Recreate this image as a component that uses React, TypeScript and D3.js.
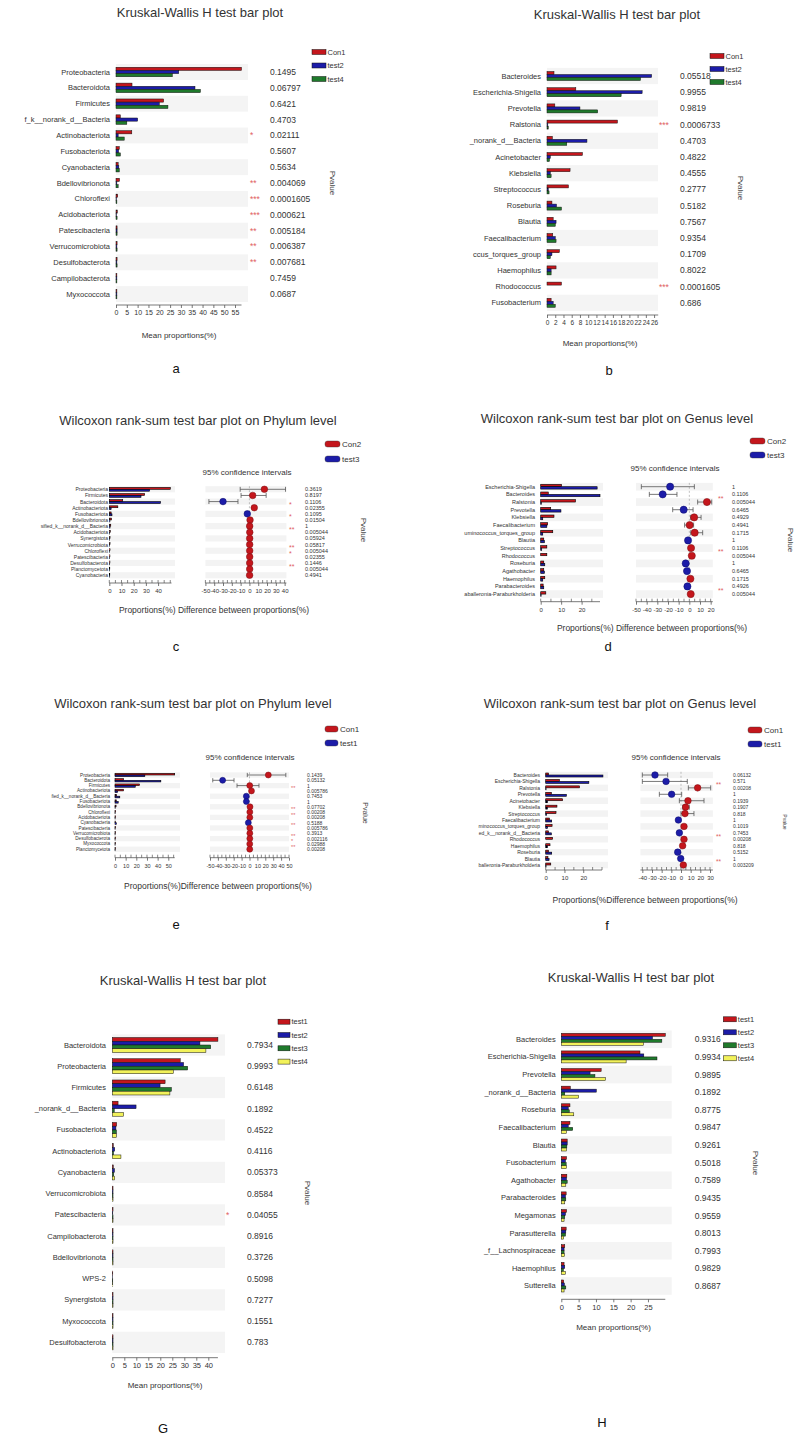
import React, { useEffect, useRef } from "react";
import * as d3 from "d3";

const RED = "#c4161c";
const BLUE = "#1c1ca8";
const GREEN = "#1f7a2c";
const YELLOW = "#f2f25a";
const FONT = "Arial, 'Liberation Sans', Helvetica, sans-serif";

// ---- panel a (Kruskal-Wallis, phylum)
const aCategories = ["Proteobacteria", "Bacteroidota", "Firmicutes", "f_k__norank_d__Bacteria", "Actinobacteriota", "Fusobacteriota", "Cyanobacteria", "Bdellovibrionota", "Chloroflexi", "Acidobacteriota", "Patescibacteria", "Verrucomicrobiota", "Desulfobacterota", "Campilobacterota", "Myxococcota"];
const aCon1 = [58, 7.4, 22, 2, 7.3, 1.5, 1.0, 1.6, 0.8, 0.6, 0.5, 0.5, 0.5, 0.4, 0.4];
const aTest2 = [29, 36.5, 20, 10, 1, 1.2, 1.3, 0.4, 0.2, 0.2, 0.5, 0.4, 0.4, 0.4, 0.4];
const aTest4 = [26, 39, 24, 5, 3.8, 2, 1.5, 1, 0.4, 0.5, 0.5, 0.5, 0.5, 0.4, 0.4];
const aPvalues = [0.1495, 0.06797, 0.6421, 0.4703, 0.02111, 0.5607, 0.5634, 0.004069, 0.0001605, 0.000621, 0.005184, 0.006387, 0.007681, 0.7459, 0.0687];
const aTicks = [0, 5, 10, 15, 20, 25, 30, 35, 40, 45, 50, 55];

// ---- panel b (Kruskal-Wallis, genus)
const bCategories = ["Bacteroides", "Escherichia-Shigella", "Prevotella", "Ralstonia", "_norank_d__Bacteria", "Acinetobacter", "Klebsiella", "Streptococcus", "Roseburia", "Blautia", "Faecalibacterium", "ccus_torques_group", "Haemophilus", "Rhodococcus", "Fusobacterium"];
const bCon1 = [1.7, 7, 1.9, 17.1, 1.3, 8.6, 5.6, 5.2, 1.2, 1.5, 1.4, 3, 2.2, 3.5, 1];
const bTest2 = [25.4, 23.1, 8, 0.2, 9.7, 0.8, 0.8, 0.3, 2.3, 2.2, 2.0, 1.2, 1, 0, 1.5];
const bTest4 = [22.7, 18, 12.3, 0.3, 4.8, 0.6, 1, 0.5, 3.5, 2, 2.2, 0.8, 1, 0, 2];
const bPvalues = [0.05518, 0.9955, 0.9819, 0.0006733, 0.4703, 0.4822, 0.4555, 0.2777, 0.5182, 0.7567, 0.9354, 0.1709, 0.8022, 0.0001605, 0.686];
const bTicks = [0, 2, 4, 6, 8, 10, 12, 14, 16, 18, 20, 22, 24, 26];

// ---- panel c (Wilcoxon, phylum, Con2 vs test3)
const cCategories = ["Proteobacteria", "Firmicutes", "Bacteroidota", "Actinobacteriota", "Fusobacteriota", "Bdellovibrionota", "sified_k__norank_d__Bacteria", "Acidobacteriota", "Synergistota", "Verrucomicrobiota", "Chloroflexi", "Patescibacteria", "Desulfobacterota", "Planctomycetota", "Cyanobacteria"];
const cCon2 = [50, 29, 11, 7, 1.5, 1.8, 1.2, 0.8, 0.6, 0.6, 0.6, 0.5, 0.5, 0.4, 0.4];
const cTest3 = [33, 26, 42, 1.5, 2.2, 0.5, 0.6, 0.1, 0.1, 0.1, 0.1, 0.1, 0.1, 0.1, 0.2];
const cDiff = [17, 3.7, -30, 5.5, -2.4, 0.7, 0.3, 0.4, 0.3, 0.3, 0.3, 0.3, 0.3, 0.3, 0.2];
const cLow = [-10.5, -9.5, -46, 4, -3.2, 0.3, 0.1, 0.2, 0.1, 0.1, 0.1, 0.1, 0.1, 0.1, 0.0];
const cHigh = [41, 19, -13, 7, -1.6, 1.1, 0.5, 0.6, 0.5, 0.5, 0.5, 0.5, 0.5, 0.5, 0.4];
const cPvalues = [0.3619, 0.8197, 0.1106, 0.02355, 0.1095, 0.01504, 1, 0.005044, 0.05924, 0.05817, 0.005044, 0.02355, 0.1446, 0.005044, 0.4941];
const cBarTicks = [0, 10, 20, 30, 40];
const cCiTicks = [-50, -40, -30, -20, -10, 0, 10, 20, 30, 40];

// ---- panel d (Wilcoxon, genus, Con2 vs test3)
const dCategories = ["Escherichia-Shigella", "Bacteroides", "Ralstonia", "Prevotella", "Klebsiella", "Faecalibacterium", "uminococcus_torques_group", "Blautia", "Streptococcus", "Rhodococcus", "Roseburia", "Agathobacter", "Haemophilus", "Parabacteroides", "aballeronia-Paraburkholderia"];
const dCon2 = [10.2, 3.7, 17, 4.9, 6.5, 3.4, 5.9, 1.5, 3, 3, 1.5, 1.5, 2, 1.2, 2.5];
const dTest3 = [27.6, 29, 0.3, 9.9, 1, 3, 1, 1.8, 0.5, 0, 2, 1.8, 1, 1.5, 0.2];
const dDiff = [-18, -25, 16.5, -5.3, 4.5, 0.3, 5, -1.2, 1.6, 2.3, -3.4, -2.2, 1, -1.8, 1.3];
const dLow = [-45, -37.5, 7.8, -15.6, 1.2, -4.4, 1.3, -2, 0.8, 1.6, -4.2, -3, 0.3, -2.6, 0.6];
const dHigh = [4.7, -11.6, 21, 3.5, 11, 4, 12.5, -0.4, 2.4, 3, -2.6, -1.4, 1.7, -1, 2];
const dPvalues = [1, 0.1106, 0.005044, 0.6465, 0.4929, 0.4941, 0.1715, 1, 0.1106, 0.005044, 1, 0.6465, 0.1715, 0.4926, 0.005044];
const dBarTicks = [0, 10, 20];
const dCiTicks = [-50, -40, -30, -20, -10, 0, 10, 20];

// ---- panel e (Wilcoxon, phylum, Con1 vs test1)
const eCategories = ["Proteobacteria", "Bacteroidota", "Firmicutes", "Actinobacteriota", "fied_k__norank_d__Bacteria", "Fusobacteriota", "Bdellovibrionota", "Chloroflexi", "Acidobacteriota", "Cyanobacteria", "Patescibacteria", "Verrucomicrobiota", "Desulfobacterota", "Myxococcota", "Planctomycetota"];
const eCon1 = [56, 8, 23, 8, 1.5, 1.2, 1, 0.6, 0.5, 0.3, 0.5, 0.5, 0.5, 0.4, 0.4];
const eTest1 = [28, 43, 19, 2.5, 4.5, 3, 0.2, 0.1, 0.1, 1.2, 0.1, 0.1, 0.1, 0.1, 0.1];
const eDiff = [23.8, -34, 0.3, 2.5, -4, -4, 0.6, 0.4, 0.4, -1.5, 0.4, 0.4, 0.4, 0.3, 0.3];
const eLow = [-2.8, -46.5, -15.8, 1.5, -5, -5, 0.2, 0.1, 0.1, -2.2, 0.1, 0.1, 0.1, 0.1, 0.1];
const eHigh = [46, -19.6, 12, 3.5, -3, -3, 1, 0.7, 0.7, -0.8, 0.7, 0.7, 0.7, 0.5, 0.5];
const ePvalues = [0.1439, 0.05132, 1, 0.005786, 0.7453, 1, 0.07702, 0.00208, 0.00208, 0.5188, 0.005786, 0.3913, 0.002116, 0.02988, 0.00208];
const eBarTicks = [0, 10, 20, 30, 40, 50];
const eCiTicks = [-50, -40, -30, -20, -10, 0, 10, 20, 30, 40, 50];

// ---- panel f (Wilcoxon, genus, Con1 vs test1)
const fCategories = ["Bacteroides", "Escherichia-Shigella", "Ralstonia", "Prevotella", "Acinetobacter", "Klebsiella", "Streptococcus", "Faecalibacterium", "minococcus_torques_group", "ed_k__norank_d__Bacteria", "Rhodococcus", "Haemophilus", "Roseburia", "Blautia", "balleronia-Paraburkholderia"];
const fCon1 = [1.5, 7.3, 18, 3, 9, 6, 5.5, 2, 3.4, 1.5, 3.7, 2.3, 1.5, 1.2, 2.7];
const fTest1 = [30.5, 23, 0.2, 11, 1, 1, 0.5, 3.2, 1, 3, 0, 1, 3.2, 1.8, 0.2];
const fDiff = [-26.9, -15.5, 17.2, -9.7, 7.2, 4.8, 4.1, -2.7, 3.1, -1.7, 3.1, 1.7, -3.4, -0.3, 2.4];
const fLow = [-40, -40, 7.6, -22.4, -1.7, 1.7, 0, -3.5, 2, -2.5, 2.4, 0.9, -4.2, -1.1, 1.6];
const fHigh = [-13.8, 6.5, 30.7, 0.7, 23.8, 8.6, 13.4, -1.9, 4.2, -0.9, 3.8, 2.5, -2.6, 0.5, 3.2];
const fPvalues = [0.06132, 0.571, 0.00208, 1, 0.1939, 0.1907, 0.818, 1, 0.1019, 0.7453, 0.00208, 0.818, 0.5152, 1, 0.003209];
const fBarTicks = [0, 10, 20];
const fCiTicks = [-40, -30, -20, -10, 0, 10, 20, 30];

// ---- panel G (Kruskal-Wallis, phylum, 4 groups)
const gCategories = ["Bacteroidota", "Proteobacteria", "Firmicutes", "_norank_d__Bacteria", "Fusobacteriota", "Actinobacteriota", "Cyanobacteria", "Verrucomicrobiota", "Patescibacteria", "Campilobacterota", "Bdellovibrionota", "WPS-2", "Synergistota", "Myxococcota", "Desulfobacterota"];
const gTest1 = [44, 28.3, 22, 2.4, 1.8, 0.4, 0.4, 0.3, 0.3, 0.3, 0.3, 0.2, 0.3, 0.3, 0.3];
const gTest2 = [36.5, 29.7, 19.9, 9.9, 1.5, 1, 0.9, 0.3, 0.2, 0.3, 0.3, 0.1, 0.3, 0.3, 0.3];
const gTest3 = [41, 31.4, 24.6, 0.8, 1.7, 0.5, 0.6, 0.3, 0.3, 0.3, 0.3, 0.2, 0.3, 0.3, 0.3];
const gTest4 = [39, 25.4, 24, 4.7, 1.7, 3.6, 1, 0.3, 0.3, 0.3, 0.3, 0.2, 0.3, 0.3, 0.3];
const gPvalues = [0.7934, 0.9993, 0.6148, 0.1892, 0.4522, 0.4116, 0.05373, 0.8584, 0.04055, 0.8916, 0.3726, 0.5098, 0.7277, 0.1551, 0.783];
const gTicks = [0, 5, 10, 15, 20, 25, 30, 35, 40];

// ---- panel H (Kruskal-Wallis, genus, 4 groups)
const hCategories = ["Bacteroides", "Escherichia-Shigella", "Prevotella", "_norank_d__Bacteria", "Roseburia", "Faecalibacterium", "Blautia", "Fusobacterium", "Agathobacter", "Parabacteroides", "Megamonas", "Parasutterella", "_f__Lachnospiraceae", "Haemophilus", "Sutterella"];
const hTest1 = [30, 22.7, 11.5, 2.6, 2.5, 2.5, 1.7, 1.5, 1.6, 1.4, 1.5, 1.4, 1, 0.8, 0.7];
const hTest2 = [26.3, 23.8, 8.3, 10.1, 2, 2, 1.7, 1.2, 1.5, 1.2, 1.2, 1.3, 0.8, 1, 0.9];
const hTest3 = [29, 27.6, 9.7, 1, 2.3, 3.3, 1.6, 1.4, 1.7, 1.3, 1.0, 1.2, 0.8, 0.6, 1.3];
const hTest4 = [23.7, 18.7, 12.7, 5, 3.6, 1.5, 1.5, 1.5, 1.3, 1, 0.8, 0.7, 0.9, 1.2, 0.8];
const hPvalues = [0.9316, 0.9934, 0.9895, 0.1892, 0.8775, 0.9847, 0.9261, 0.5018, 0.7589, 0.9435, 0.9559, 0.8013, 0.7993, 0.9829, 0.8687];
const hTicks = [0, 5, 10, 15, 20, 25];

type G = d3.Selection<SVGGElement, unknown, null, undefined>;

interface Series {
  name: string;
  color: string;
  values: number[];
}

const stars = (p: number) => (p < 0.001 ? "***" : p < 0.01 ? "**" : p < 0.05 ? "*" : "");
const plain = (d: d3.NumberValue) => String(d); // keep ASCII hyphen like the original

function txt(g: G, x: number, y: number, s: string, size: number, anchor = "start", fill = "#333") {
  return g
    .append("text")
    .attr("x", x)
    .attr("y", y)
    .attr("font-size", size)
    .attr("font-family", FONT)
    .attr("fill", fill)
    .attr("text-anchor", anchor)
    .attr("dominant-baseline", "central")
    .text(s);
}

function styleAxis(g: G, tickFont: number) {
  g.attr("font-family", FONT).attr("font-size", tickFont);
  g.select(".domain").attr("stroke", "#555").attr("stroke-width", 0.8);
  g.selectAll(".tick line").attr("stroke", "#555").attr("stroke-width", 0.8);
  g.selectAll(".tick text").attr("fill", "#333").attr("font-size", tickFont);
}

function pvalueLabel(g: G, x: number, y: number, size: number) {
  g.append("text")
    .attr("transform", `translate(${x},${y}) rotate(90)`)
    .attr("text-anchor", "middle")
    .attr("dominant-baseline", "central")
    .attr("font-size", size)
    .attr("font-family", FONT)
    .attr("fill", "#444")
    .text("Pvalue");
}

interface KWLayout {
  titleX: number; titleY: number;
  labelRight: number; labelFont: number;
  x0: number; x1: number; domainMax: number; tickFont: number;
  rowTop: number; rowStep: number; groupH: number;
  stripeRight: number; pX: number; pFont: number; starX: number;
  pLabelX: number; pLabelY: number;
  legendX: number; legendY: number; legendStep: number; legendW: number;
  axisY: number; xlabelX: number; xlabelY: number;
  letter: string; letterX: number; letterY: number;
}

function drawKW(root: G, L: KWLayout, categories: string[], series: Series[], pvalues: number[], ticks: number[]) {
  const g = root.append("g");
  const n = categories.length;
  const x = d3.scaleLinear().domain([0, L.domainMax]).range([L.x0, L.x1]);
  const y = d3
    .scaleBand<string>()
    .domain(categories)
    .range([L.rowTop - L.rowStep / 2, L.rowTop + L.rowStep * (n - 0.5)]);
  const inner = d3
    .scaleBand<string>()
    .domain(series.map((s) => s.name))
    .range([-L.groupH / 2, L.groupH / 2]);
  const yc = (c: string) => (y(c) as number) + y.bandwidth() / 2;

  txt(g, L.titleX, L.titleY, "Kruskal-Wallis H test bar plot", 13, "middle", "#333");

  g.append("g")
    .selectAll("rect")
    .data(categories.filter((_, i) => i % 2 === 0))
    .join("rect")
    .attr("x", L.x0)
    .attr("y", (d) => y(d) as number)
    .attr("width", L.stripeRight - L.x0)
    .attr("height", y.bandwidth())
    .attr("fill", "#f4f4f4");

  series.forEach((s) => {
    g.append("g")
      .selectAll("rect")
      .data(categories)
      .join("rect")
      .attr("x", L.x0)
      .attr("y", (d) => yc(d) + (inner(s.name) as number))
      .attr("width", (_, i) => Math.max(0, x(s.values[i]) - L.x0))
      .attr("height", inner.bandwidth())
      .attr("fill", s.color)
      .attr("stroke", "#111")
      .attr("stroke-width", 0.5);
  });

  categories.forEach((c, i) => {
    txt(g, L.labelRight, yc(c), c, L.labelFont, "end", "#333");
    txt(g, L.pX, yc(c), String(pvalues[i]), L.pFont, "start", "#333");
    const st = stars(pvalues[i]);
    if (st) txt(g, L.starX, yc(c), st, L.pFont, "start", "#e06060");
  });

  const ax = g
    .append("g")
    .attr("transform", `translate(0,${L.axisY})`)
    .call(d3.axisBottom(x).tickValues(ticks).tickFormat(plain).tickSize(3).tickSizeOuter(0).tickPadding(2));
  styleAxis(ax, L.tickFont);
  ax.select(".domain").attr("d", `M${L.x0},0H${L.x1}`);

  txt(g, L.xlabelX, L.xlabelY, "Mean proportions(%)", 8, "middle", "#333");
  pvalueLabel(g, L.pLabelX, L.pLabelY, 8);

  series.forEach((s, i) => {
    const ly = L.legendY + i * L.legendStep;
    g.append("rect")
      .attr("x", L.legendX)
      .attr("y", ly - 2.5)
      .attr("width", L.legendW)
      .attr("height", 5)
      .attr("fill", s.color)
      .attr("stroke", "#111")
      .attr("stroke-width", 0.5);
    txt(g, L.legendX + L.legendW + 1.5, ly, s.name, 7.5, "start", "#333");
  });

  txt(g, L.letterX, L.letterY, L.letter, 13, "middle", "#111");
}

interface WLayout {
  title: string; titleX: number; titleY: number;
  legendX: number; legendY: number; legendStep: number; legendW: number;
  ciTitleX: number; ciTitleY: number;
  rowTop: number; rowStep: number;
  labelRight: number; labelFont: number;
  barX0: number; barX1: number; barMax: number; barStripeRight: number;
  ciX0: number; ciX1: number; ciMin: number; ciMax: number;
  pX: number; starX: number; pFont: number; starFont: number;
  pLabelX: number; pLabelY: number; pLabelFont: number;
  axisY: number; xlabel: string; xlabelX: number; xlabelY: number;
  letter: string; letterX: number; letterY: number;
  dotR: number; tickFont: number;
}

function drawW(
  root: G,
  L: WLayout,
  categories: string[],
  groups: Series[],
  diff: number[],
  low: number[],
  high: number[],
  pvalues: number[],
  barTicks: number[],
  ciTicks: number[]
) {
  const g = root.append("g");
  const n = categories.length;
  const y = d3
    .scaleBand<string>()
    .domain(categories)
    .range([L.rowTop - L.rowStep / 2, L.rowTop + L.rowStep * (n - 0.5)]);
  const yc = (c: string) => (y(c) as number) + y.bandwidth() / 2;
  const xb = d3.scaleLinear().domain([0, L.barMax]).range([L.barX0, L.barX1]);
  const xc = d3.scaleLinear().domain([L.ciMin, L.ciMax]).range([L.ciX0, L.ciX1]);
  const groupH = L.rowStep * 0.62;
  const inner = d3
    .scaleBand<string>()
    .domain(groups.map((s) => s.name))
    .range([-groupH / 2, groupH / 2]);

  txt(g, L.titleX, L.titleY, L.title, 13, "middle", "#333");
  txt(g, L.ciTitleX, L.ciTitleY, "95% confidence intervals", 8, "middle", "#333");

  const even = categories.filter((_, i) => i % 2 === 0);
  g.append("g")
    .selectAll("rect")
    .data(even)
    .join("rect")
    .attr("x", L.barX0)
    .attr("y", (d) => y(d) as number)
    .attr("width", L.barStripeRight - L.barX0)
    .attr("height", y.bandwidth())
    .attr("fill", "#f3f3f3");
  g.append("g")
    .selectAll("rect")
    .data(even)
    .join("rect")
    .attr("x", L.ciX0)
    .attr("y", (d) => y(d) as number)
    .attr("width", L.ciX1 - L.ciX0)
    .attr("height", y.bandwidth())
    .attr("fill", "#f3f3f3");

  groups.forEach((s) => {
    g.append("g")
      .selectAll("rect")
      .data(categories)
      .join("rect")
      .attr("x", L.barX0)
      .attr("y", (d) => yc(d) + (inner(s.name) as number))
      .attr("width", (_, i) => Math.max(0, xb(s.values[i]) - L.barX0))
      .attr("height", inner.bandwidth())
      .attr("fill", s.color)
      .attr("stroke", "#000")
      .attr("stroke-width", 0.6);
  });

  // zero reference
  g.append("line")
    .attr("x1", xc(0))
    .attr("x2", xc(0))
    .attr("y1", L.rowTop - L.rowStep / 2)
    .attr("y2", L.rowTop + L.rowStep * (n - 0.5))
    .attr("stroke", "#999")
    .attr("stroke-width", 0.6)
    .attr("stroke-dasharray", "2,2");

  const cap = Math.min(L.rowStep * 0.8, 5);
  categories.forEach((c, i) => {
    const cy = yc(c);
    const eg = g.append("g").attr("stroke", "#555").attr("stroke-width", 0.8);
    eg.append("line").attr("x1", xc(low[i])).attr("x2", xc(high[i])).attr("y1", cy).attr("y2", cy);
    eg.append("line").attr("x1", xc(low[i])).attr("x2", xc(low[i])).attr("y1", cy - cap / 2).attr("y2", cy + cap / 2);
    eg.append("line").attr("x1", xc(high[i])).attr("x2", xc(high[i])).attr("y1", cy - cap / 2).attr("y2", cy + cap / 2);
  });
  categories.forEach((c, i) => {
    const pos = diff[i] >= 0;
    g.append("circle")
      .attr("cx", xc(diff[i]))
      .attr("cy", yc(c))
      .attr("r", L.dotR)
      .attr("fill", pos ? groups[0].color : groups[1].color)
      .attr("stroke", pos ? "#7a0d10" : "#0d0d6a")
      .attr("stroke-width", 0.5);
  });

  categories.forEach((c, i) => {
    txt(g, L.labelRight, yc(c), c, L.labelFont, "end", "#333");
    txt(g, L.pX, yc(c), String(pvalues[i]), L.pFont, "start", "#333");
    const st = stars(pvalues[i]);
    if (st) txt(g, L.starX, yc(c) - L.rowStep * 0.5, st, L.starFont, "start", "#e06060");
  });

  const ab = g
    .append("g")
    .attr("transform", `translate(0,${L.axisY})`)
    .call(d3.axisBottom(xb).tickValues(barTicks).tickFormat(plain).tickSize(3).tickSizeOuter(0).tickPadding(3));
  styleAxis(ab, L.tickFont);
  ab.select(".domain").attr("d", `M${L.barX0},0H${L.barX1}`);
  const minorB = d3.range(0, L.barMax + 0.01, (barTicks[1] - barTicks[0]) / 2);
  ab.append("g")
    .selectAll("line")
    .data(minorB)
    .join("line")
    .attr("x1", (d) => xb(d))
    .attr("x2", (d) => xb(d))
    .attr("y1", -3)
    .attr("y2", 0)
    .attr("stroke", "#555")
    .attr("stroke-width", 0.7);

  const ac = g
    .append("g")
    .attr("transform", `translate(0,${L.axisY})`)
    .call(d3.axisBottom(xc).tickValues(ciTicks).tickFormat(plain).tickSize(3).tickSizeOuter(0).tickPadding(3));
  styleAxis(ac, L.tickFont);
  ac.select(".domain").attr("d", `M${L.ciX0},0H${L.ciX1}`);
  const minorC = d3.range(ciTicks[0], L.ciMax + 0.01, 5);
  ac.append("g")
    .selectAll("line")
    .data(minorC)
    .join("line")
    .attr("x1", (d) => xc(d))
    .attr("x2", (d) => xc(d))
    .attr("y1", -3)
    .attr("y2", 0)
    .attr("stroke", "#555")
    .attr("stroke-width", 0.7);

  txt(g, L.xlabelX, L.xlabelY, L.xlabel, 8.5, "middle", "#333");
  pvalueLabel(g, L.pLabelX, L.pLabelY, L.pLabelFont);

  groups.forEach((s, i) => {
    const ly = L.legendY + i * L.legendStep;
    g.append("rect")
      .attr("x", L.legendX)
      .attr("y", ly - 3)
      .attr("width", L.legendW)
      .attr("height", 6)
      .attr("rx", 2.5)
      .attr("fill", s.color)
      .attr("stroke", "#333")
      .attr("stroke-width", 0.4);
    txt(g, L.legendX + L.legendW + 2, ly, s.name, 8, "start", "#333");
  });

  txt(g, L.letterX, L.letterY, L.letter, 13, "middle", "#111");
}

const App = () => {
  const ref = useRef<SVGSVGElement | null>(null);

  useEffect(() => {
    const svg = d3.select(ref.current);
    svg.selectAll("*").remove();
    const root = svg.append("g") as unknown as G;

    drawKW(
      root,
      {
        titleX: 200, titleY: 12, labelRight: 110, labelFont: 7.5,
        x0: 116, x1: 241.5, domainMax: 58, tickFont: 7,
        rowTop: 72, rowStep: 15.86, groupH: 9.5,
        stripeRight: 248, pX: 270, pFont: 8.5, starX: 250,
        pLabelX: 332, pLabelY: 183,
        legendX: 312, legendY: 52, legendStep: 13.5, legendW: 14,
        axisY: 305, xlabelX: 179, xlabelY: 335,
        letter: "a", letterX: 176, letterY: 368,
      },
      aCategories,
      [
        { name: "Con1", color: RED, values: aCon1 },
        { name: "test2", color: BLUE, values: aTest2 },
        { name: "test4", color: GREEN, values: aTest4 },
      ],
      aPvalues,
      aTicks
    );

    drawKW(
      root,
      {
        titleX: 617, titleY: 14, labelRight: 541, labelFont: 7.5,
        x0: 547, x1: 658.2, domainMax: 27, tickFont: 6.5,
        rowTop: 76, rowStep: 16.2, groupH: 9,
        stripeRight: 658, pX: 680, pFont: 8.5, starX: 659,
        pLabelX: 740, pLabelY: 188,
        legendX: 710, legendY: 56, legendStep: 13, legendW: 14,
        axisY: 315, xlabelX: 600, xlabelY: 343,
        letter: "b", letterX: 609, letterY: 370,
      },
      bCategories,
      [
        { name: "Con1", color: RED, values: bCon1 },
        { name: "test2", color: BLUE, values: bTest2 },
        { name: "test4", color: GREEN, values: bTest4 },
      ],
      bPvalues,
      bTicks
    );

    drawW(
      root,
      {
        title: "Wilcoxon rank-sum test bar plot on Phylum level", titleX: 198, titleY: 420,
        legendX: 325, legendY: 444, legendStep: 15, legendW: 15,
        ciTitleX: 247, ciTitleY: 472,
        rowTop: 489.3, rowStep: 6.14, labelRight: 108, labelFont: 5,
        barX0: 109.3, barX1: 171.5, barMax: 51, barStripeRight: 175,
        ciX0: 205.4, ciX1: 286.4, ciMin: -50, ciMax: 42,
        pX: 305, starX: 289, pFont: 5.5, starFont: 7,
        pLabelX: 363, pLabelY: 530, pLabelFont: 8,
        axisY: 583, xlabel: "Proportions(%) Difference between proportions(%)", xlabelX: 214, xlabelY: 610,
        letter: "c", letterX: 176, letterY: 646, dotR: 3.3, tickFont: 6,
      },
      cCategories,
      [
        { name: "Con2", color: RED, values: cCon2 },
        { name: "test3", color: BLUE, values: cTest3 },
      ],
      cDiff, cLow, cHigh, cPvalues, cBarTicks, cCiTicks
    );

    drawW(
      root,
      {
        title: "Wilcoxon rank-sum test bar plot on Genus level", titleX: 617, titleY: 418,
        legendX: 750, legendY: 441, legendStep: 14, legendW: 15,
        ciTitleX: 675, ciTitleY: 468,
        rowTop: 486.7, rowStep: 7.67, labelRight: 535, labelFont: 5.5,
        barX0: 540.7, barX1: 600, barMax: 29, barStripeRight: 603,
        ciX0: 636, ciX1: 712.8, ciMin: -50, ciMax: 22,
        pX: 732, starX: 718, pFont: 5.5, starFont: 7,
        pLabelX: 790, pLabelY: 540, pLabelFont: 8,
        axisY: 601.7, xlabel: "Proportions(%) Difference between proportions(%)", xlabelX: 652, xlabelY: 628,
        letter: "d", letterX: 608, letterY: 646, dotR: 3.6, tickFont: 6,
      },
      dCategories,
      [
        { name: "Con2", color: RED, values: dCon2 },
        { name: "test3", color: BLUE, values: dTest3 },
      ],
      dDiff, dLow, dHigh, dPvalues, dBarTicks, dCiTicks
    );

    drawW(
      root,
      {
        title: "Wilcoxon rank-sum test bar plot on Phylum level", titleX: 193, titleY: 703,
        legendX: 325, legendY: 729, legendStep: 14, legendW: 13,
        ciTitleX: 250, ciTitleY: 757,
        rowTop: 775, rowStep: 5.3, labelRight: 110, labelFont: 4.6,
        barX0: 115, barX1: 174.7, barMax: 56, barStripeRight: 180,
        ciX0: 210, ciX1: 289, ciMin: -50, ciMax: 50,
        pX: 307, starX: 291, pFont: 5, starFont: 5.5,
        pLabelX: 365, pLabelY: 813, pLabelFont: 7,
        axisY: 857.7, xlabel: "Proportions(%)Difference between proportions(%)", xlabelX: 218, xlabelY: 886,
        letter: "e", letterX: 176, letterY: 924, dotR: 3, tickFont: 5.5,
      },
      eCategories,
      [
        { name: "Con1", color: RED, values: eCon1 },
        { name: "test1", color: BLUE, values: eTest1 },
      ],
      eDiff, eLow, eHigh, ePvalues, eBarTicks, eCiTicks
    );

    drawW(
      root,
      {
        title: "Wilcoxon rank-sum test bar plot on Genus level", titleX: 620, titleY: 703,
        legendX: 748, legendY: 730, legendStep: 14, legendW: 14,
        ciTitleX: 676, ciTitleY: 757,
        rowTop: 775, rowStep: 6.43, labelRight: 540, labelFont: 5,
        barX0: 545.7, barX1: 602, barMax: 30, barStripeRight: 608,
        ciX0: 640.4, ciX1: 712.9, ciMin: -42, ciMax: 33,
        pX: 733, starX: 716, pFont: 5, starFont: 6.5,
        pLabelX: 785, pLabelY: 822, pLabelFont: 5,
        axisY: 870, xlabel: "Proportions(%Difference between proportions(%)", xlabelX: 645, xlabelY: 900,
        letter: "f", letterX: 607, letterY: 925, dotR: 3.3, tickFont: 6,
      },
      fCategories,
      [
        { name: "Con1", color: RED, values: fCon1 },
        { name: "test1", color: BLUE, values: fTest1 },
      ],
      fDiff, fLow, fHigh, fPvalues, fBarTicks, fCiTicks
    );

    drawKW(
      root,
      {
        titleX: 183, titleY: 980, labelRight: 106, labelFont: 7.5,
        x0: 112.3, x1: 217.9, domainMax: 44, tickFont: 7.5,
        rowTop: 1045, rowStep: 21.24, groupH: 15,
        stripeRight: 225, pX: 247, pFont: 8.5, starX: 226,
        pLabelX: 307, pLabelY: 1193,
        legendX: 278, legendY: 1021.7, legendStep: 13.3, legendW: 12,
        axisY: 1357.7, xlabelX: 165, xlabelY: 1385.7,
        letter: "G", letterX: 163, letterY: 1428,
      },
      gCategories,
      [
        { name: "test1", color: RED, values: gTest1 },
        { name: "test2", color: BLUE, values: gTest2 },
        { name: "test3", color: GREEN, values: gTest3 },
        { name: "test4", color: YELLOW, values: gTest4 },
      ],
      gPvalues,
      gTicks
    );

    drawKW(
      root,
      {
        titleX: 631, titleY: 977, labelRight: 555.7, labelFont: 7.5,
        x0: 561.3, x1: 665.3, domainMax: 30, tickFont: 7.5,
        rowTop: 1039.3, rowStep: 17.62, groupH: 12,
        stripeRight: 671.7, pX: 694.7, pFont: 8.5, starX: 675,
        pLabelX: 755, pLabelY: 1163,
        legendX: 723.3, legendY: 1019.3, legendStep: 13, legendW: 13,
        axisY: 1299.3, xlabelX: 613.5, xlabelY: 1327.7,
        letter: "H", letterX: 602, letterY: 1422,
      },
      hCategories,
      [
        { name: "test1", color: RED, values: hTest1 },
        { name: "test2", color: BLUE, values: hTest2 },
        { name: "test3", color: GREEN, values: hTest3 },
        { name: "test4", color: YELLOW, values: hTest4 },
      ],
      hPvalues,
      hTicks
    );
  }, []);

  return (
    <div style={{ position: "absolute", left: 0, top: 0, background: "#fff" }}>
      <svg ref={ref} width={800} height={1439} style={{ display: "block", background: "#fff" }} />
    </div>
  );
};

export default App;
